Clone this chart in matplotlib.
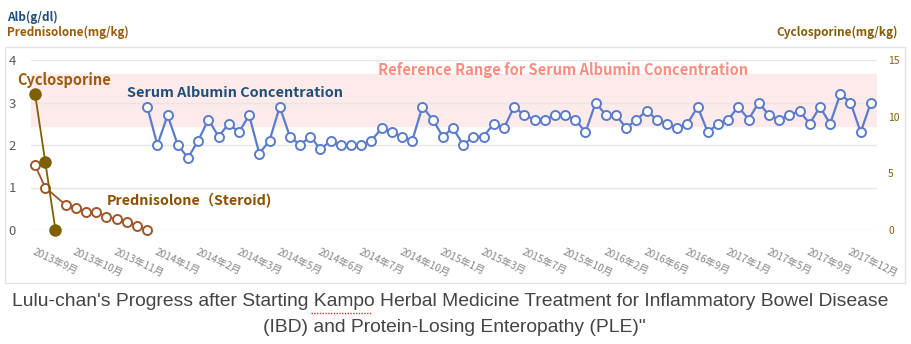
import matplotlib
matplotlib.use("Agg")
import matplotlib.pyplot as plt
import numpy as np
from matplotlib.patches import Rectangle
from matplotlib.lines import Line2D

plt.rcParams['font.family'] = ['Noto Sans CJK JP', 'DejaVu Sans']

# categories (one per visit), labels shown every 4th visit
n_cat = 83
tick_labels = ['2013年9月', '2013年10月', '2013年11月', '2014年1月', '2014年2月',
               '2014年3月', '2014年5月', '2014年6月', '2014年7月', '2014年10月',
               '2015年1月', '2015年3月', '2015年7月', '2015年10月', '2016年2月',
               '2016年6月', '2016年9月', '2017年1月', '2017年5月', '2017年9月',
               '2017年12月']

# serum albumin (g/dl), visits 11..82
alb_start = 11
albumin = [2.9, 2.0, 2.7, 2.0, 1.7, 2.1, 2.6, 2.2, 2.5, 2.3,
           2.7, 1.8, 2.1, 2.9, 2.2, 2.0, 2.2, 1.9, 2.1, 2.0,
           2.0, 2.0, 2.1, 2.4, 2.3, 2.2, 2.1, 2.9, 2.6, 2.2,
           2.4, 2.0, 2.2, 2.2, 2.5, 2.4, 2.9, 2.7, 2.6, 2.6,
           2.7, 2.7, 2.6, 2.3, 3.0, 2.7, 2.7, 2.4, 2.6, 2.8,
           2.6, 2.5, 2.4, 2.5, 2.9, 2.3, 2.5, 2.6, 2.9, 2.6,
           3.0, 2.7, 2.6, 2.7, 2.8, 2.5, 2.9, 2.5, 3.2, 3.0,
           2.3, 3.0]

# prednisolone (mg/kg)
pred_idx = [0, 1, 3, 4, 5, 6, 7, 8, 9, 10, 11]
prednisolone = [1.52, 1.0, 0.59, 0.51, 0.43, 0.43, 0.31, 0.25, 0.19, 0.1, 0.0]

# cyclosporine (mg/kg), right axis
cyclo_idx = [0, 1, 2]
cyclosporine = [12.0, 6.0, 0.0]

ref_low, ref_high = 2.45, 3.67

W, H = 912, 344
fig = plt.figure(figsize=(W / 100, H / 100), dpi=100)


def fx(x):
    return x / W


def fy(y):
    return 1 - y / H


# outer chart frame
fig.patches.append(Rectangle((fx(5), fy(283)), fx(905) - fx(5), fy(47) - fy(283),
                             transform=fig.transFigure, fill=False,
                             edgecolor='#e3e3e3', linewidth=1.0))

ax = fig.add_axes([fx(31), fy(230), fx(877) - fx(31), fy(60) - fy(230)])
ax2 = ax.twinx()

ax.set_xlim(-0.4, n_cat - 0.4)
ax.set_ylim(0, 4)
ax2.set_ylim(0, 15)

ax.axhspan(ref_low, ref_high, color='#fdeaea', zorder=0)
for v in range(5):
    ax.axhline(v, color='#e6e6e6', linewidth=1.0, zorder=0.5)

alb_x = np.arange(alb_start, alb_start + len(albumin))
ax.plot(alb_x, albumin, color='#5b7bcb', linewidth=1.6, marker='o', markersize=6.5,
        markerfacecolor='white', markeredgecolor='#5b7bcb', markeredgewidth=1.4,
        zorder=3, clip_on=False)

ax.plot(pred_idx, prednisolone, color='#a0562a', linewidth=1.3, marker='o', markersize=6.5,
        markerfacecolor='white', markeredgecolor='#a0562a', markeredgewidth=1.4,
        zorder=3, clip_on=False)

ax2.plot(cyclo_idx, cyclosporine, color='#7f6000', linewidth=1.3, marker='o', markersize=8,
         markerfacecolor='#7f6000', markeredgecolor='#7f6000', zorder=4, clip_on=False)

for a in (ax, ax2):
    for s in a.spines.values():
        s.set_visible(False)

ax.set_yticks([0, 1, 2, 3, 4])
ax.tick_params(axis='y', length=0, pad=11, labelsize=9.5, labelcolor='#595959')
ax2.set_yticks([0, 5, 10, 15])
ax2.tick_params(axis='y', length=0, pad=8, labelsize=7.5, labelcolor='#7f6000')

ax.set_xticks(np.arange(0, len(tick_labels) * 4, 4))
ax.set_xticklabels(tick_labels, rotation=-25, ha='left', va='top',
                   rotation_mode='anchor', fontsize=7.3, color='#858585')
ax.tick_params(axis='x', length=0, pad=12)

# axis titles and series labels
fig.text(fx(7), fy(17), 'Alb(g/dl)', color='#1f4e79', fontsize=8.5, fontweight='bold',
         ha='left', va='center')
fig.text(fx(7), fy(32), 'Prednisolone(mg/kg)', color='#9a5a0a', fontsize=8.4,
         fontweight='bold', ha='left', va='center')
fig.text(fx(776), fy(32), 'Cyclosporine(mg/kg)', color='#8a5a0a', fontsize=8.5,
         fontweight='bold', ha='left', va='center')
fig.text(fx(17), fy(80), 'Cyclosporine', color='#9c5b0f', fontsize=10.5,
         fontweight='bold', ha='left', va='center')
fig.text(fx(127), fy(93), 'Serum Albumin Concentration', color='#1f4e79', fontsize=10.4,
         fontweight='bold', ha='left', va='center')
fig.text(fx(378), fy(70), 'Reference Range for Serum Albumin Concentration',
         color='#ff8c80', fontsize=10.6, fontweight='bold', ha='left', va='center')
fig.text(fx(107), fy(201), 'Prednisolone（Steroid)', color='#8c4f00', fontsize=10.3,
         fontweight='bold', ha='left', va='center')

# caption
fig.text(fx(450), fy(302),
         "Lulu-chan's Progress after Starting Kampo Herbal Medicine Treatment for "
         "Inflammatory Bowel Disease", color='#444444', fontsize=13.9,
         family='Liberation Sans', ha='center', va='center')
fig.text(fx(454), fy(327), '(IBD) and Protein-Losing Enteropathy (PLE)"',
         color='#444444', fontsize=13.9, family='Liberation Sans', ha='center', va='center')
# spell-check squiggle under "Kampo"
fig.lines.append(Line2D([fx(311), fx(372)], [fy(313), fy(313)], transform=fig.transFigure,
                        color='#e03030', linewidth=1.0, linestyle=(0, (1, 1))))

fig.savefig('out.png', dpi=100)
